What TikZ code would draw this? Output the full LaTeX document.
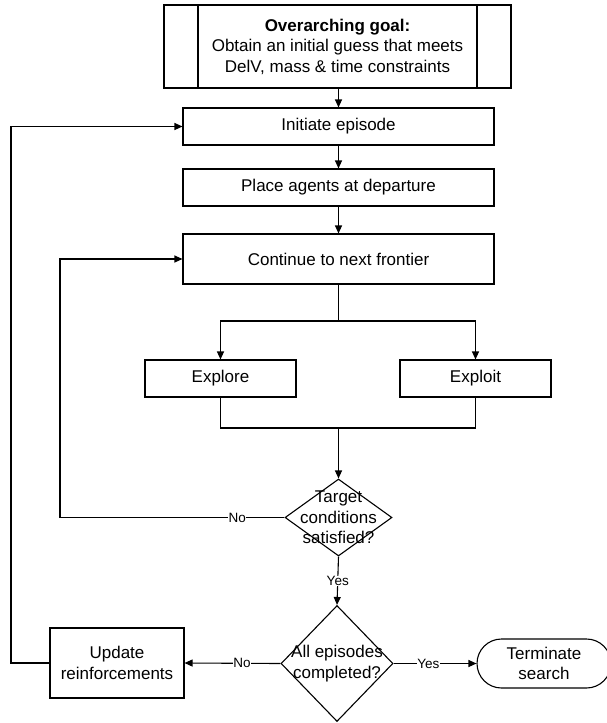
\documentclass[tikz,border=0pt]{standalone}
\usepackage{fontspec}
\setmainfont{Liberation Sans}
\usetikzlibrary{arrows.meta,shapes.geometric,shapes.misc}
\begin{document}
\begin{tikzpicture}[x=1pt,y=-1pt,
  line width=1.1pt,
  box/.style={draw, rectangle, inner sep=0pt, font=\fontsize{17}{20.5}\selectfont, align=center},
  dia/.style={draw, diamond, inner sep=0pt},
  dtext/.style={font=\fontsize{17}{20.5}\selectfont, align=center, inner sep=0pt},
  lbl/.style={fill=white, inner sep=0.5pt, font=\fontsize{13.5}{15}\selectfont},
  arr/.style={-{Triangle[length=8pt,width=7pt]}}
]
\useasboundingbox (0,0) rectangle (606,723);
% goal box
\node[box, minimum width=347pt, minimum height=83pt] (goal) at (337.5,46.5) {};
\draw (198,5) -- (198,88) (477,5) -- (477,88);
\node[dtext, align=center] (goaltext) at (337.5,46.5) {\textbf{Overarching goal:}\\Obtain an initial guess that meets\\DelV, mass \& time constraints};
\node[box, minimum width=311pt, minimum height=37pt] (init) at (338.5,126.5) {Initiate episode};
\node[box, minimum width=311pt, minimum height=37pt] (place) at (338.5,187.5) {Place agents at departure};
\node[box, minimum width=311pt, minimum height=50pt] (cont) at (338.5,259) {Continue to next frontier};
\node[box, minimum width=151pt, minimum height=37pt] (explore) at (220.5,378.5) {Explore};
\node[box, minimum width=151pt, minimum height=37pt] (exploit) at (475.5,378.5) {Exploit};
\node[dia, minimum width=107pt, minimum height=77pt] (d1) at (338.5,517.5) {};
\node[dtext] (d1t) at (338.5,517.5) {Target\\conditions\\satisfied?};
\node[dia, minimum width=112pt, minimum height=116pt] (d2) at (337,663.5) {};
\node[dtext] (d2t) at (337,663.5) {All episodes\\completed?};
\node[box, minimum width=134pt, minimum height=70pt] (upd) at (117,663) {Update\\reinforcements};
\node[draw, rounded rectangle, minimum width=134pt, minimum height=49pt, inner sep=0pt, font=\fontsize{17}{20.5}\selectfont, align=center] (term) at (544,663.5) {Terminate\\search};
\coordinate (split) at (338.5,321);
\coordinate (join) at (338.5,428);
% connectors
\draw[arr] (goal.south -| init.north) -- (init.north);
\draw[arr] (init) -- (place);
\draw[arr] (place) -- (cont);
\draw (cont.south) -- (split);
\draw[arr] (split) -| (explore.north);
\draw[arr] (split) -| (exploit.north);
\draw (explore.south) |- (join);
\draw (exploit.south) |- (join);
\draw[arr] (join) -- (d1.north);
\draw[arr] (d1.west) -- node[lbl, pos=0.21] (no1) {No} (60,517.5) |- (cont.west);
\draw[arr] (d1.south) -- node[lbl, pos=0.5] (yes1) {Yes} (d2.north);
\draw[arr] (d2.west) -- node[lbl, pos=0.4] (no2) {No} (upd.east);
\draw[arr] (d2.east) -- node[lbl, pos=0.42] (yes2) {Yes} (term.west);
\draw[arr] (upd.west) -- (11,663) |- (init.west);
\end{tikzpicture}
\end{document}
